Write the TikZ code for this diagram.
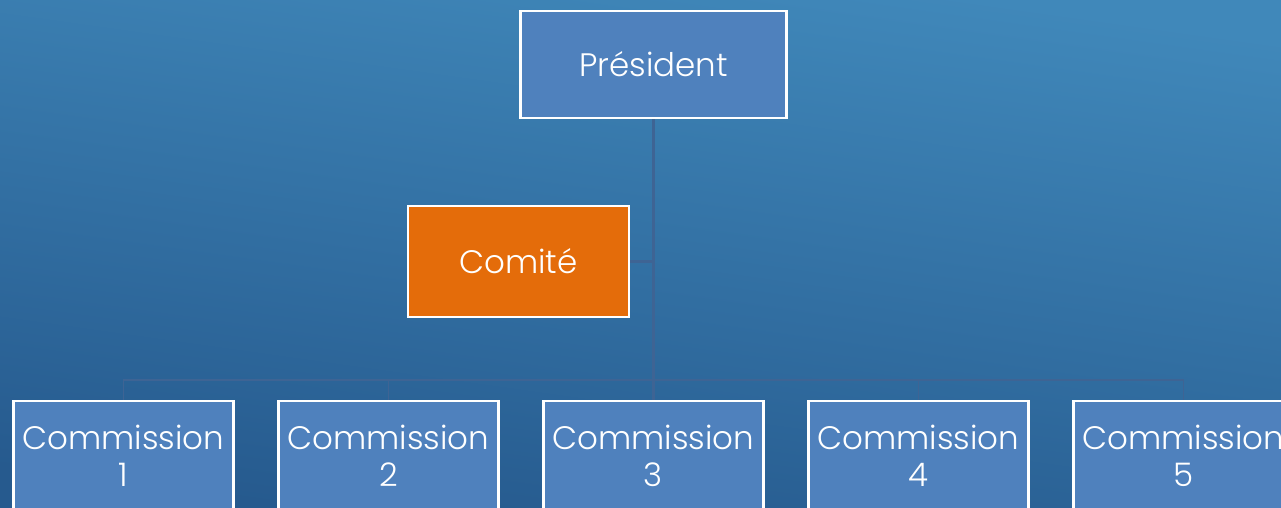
\documentclass[tikz,border=0pt]{standalone}
\usepackage{fontspec}
\IfFontExistsTF{Poppins Light}{\setmainfont{Poppins Light}}{\setmainfont{Poppins}}
\usepackage{tikz}

\definecolor{boxblue}{RGB}{79,129,189}
\definecolor{boxorange}{RGB}{228,108,10}
\definecolor{lineblue}{RGB}{62,100,148}
\definecolor{bgtop}{RGB}{64,136,186}
\definecolor{bgbottom}{RGB}{38,90,142}

\begin{document}
\begin{tikzpicture}[
	orgbox/.style={draw=white, line width=1.4pt, fill=boxblue, text=white, align=center,
		inner sep=0pt, font=\fontsize{18.5}{21}\selectfont},
	link/.style={draw=lineblue, line width=1.5pt}]
		\useasboundingbox (0, 0) rectangle (25.62, 10.16) ;
\shade[top color=bgtop, bottom color=bgbottom, shading angle=-8] (0, 0) rectangle (25.62, 10.16) ; % Fond 
\node[orgbox, minimum width=5.32cm, minimum height=2.14cm] (pres) at (13.07, 8.87) {Président}; % President 
\node[orgbox, fill=boxorange, minimum width=4.42cm, minimum height=2.22cm] (comite) at (10.37, 4.93) {Comité}; % Comite 
\node[orgbox, minimum width=4.4cm, minimum height=2.2cm] (c1) at (2.47, 1.04) {Commission\\1}; % Commission.1 
\node[orgbox, minimum width=4.4cm, minimum height=2.2cm] (c2) at (7.77, 1.04) {Commission\\2}; % Commission.2 
\node[orgbox, minimum width=4.4cm, minimum height=2.2cm] (c3) at (13.07, 1.04) {Commission\\3}; % Commission.3 
\node[orgbox, minimum width=4.4cm, minimum height=2.2cm] (c4) at (18.37, 1.04) {Commission\\4}; % Commission.4 
\node[orgbox, minimum width=4.4cm, minimum height=2.2cm] (c5) at (23.67, 1.04) {Commission\\5}; % Commission.5 
\coordinate (bus) at (13.07, 2.56) ; % Bus 
\draw[link] (pres.south) -- (c3.north) ; % Tronc 
\draw[link] (comite.east) -- (comite.east -| pres.south) ; % Comite.lien 
\draw[link, line width=1.1pt] (c1.north) -- (c1.north |- bus) -- (c5.north |- bus) -- (c5.north) ; % Bus 
\draw[link, line width=1.1pt] (c2.north) -- (c2.north |- bus) ; % Bus.2 
\draw[link, line width=1.1pt] (c4.north) -- (c4.north |- bus) ; % Bus.4 
		\end{tikzpicture}
\end{document}
